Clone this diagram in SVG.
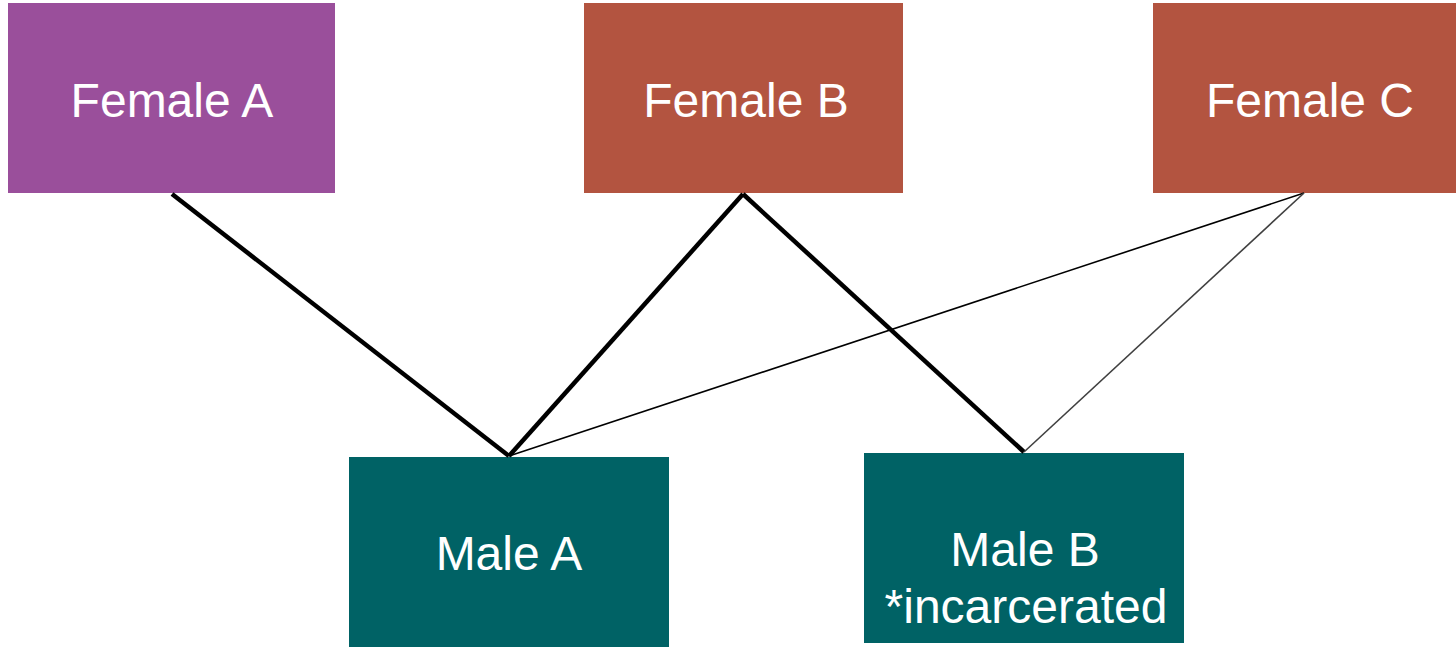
<svg xmlns="http://www.w3.org/2000/svg" width="1456" height="649" viewBox="0 0 1456 649">
<style>
.lbl{font-family:"Liberation Sans",Arial,sans-serif;font-size:48px;fill:#ffffff;text-anchor:middle}
.thick{stroke:#000;stroke-width:4.5;fill:none}
.thin{stroke:#000;stroke-width:1.6;fill:none}
.gray{stroke:#404040;stroke-width:1.6;fill:none}
</style>
<rect width="1456" height="649" fill="#ffffff"/>
<g id="femaleA"><rect x="8" y="3" width="327" height="190" fill="#9A4F9B"/><text class="lbl" x="172" y="117">Female A</text></g>
<g id="femaleB"><rect x="584" y="3" width="319" height="190" fill="#B35440"/><text class="lbl" x="746" y="117">Female B</text></g>
<g id="femaleC"><rect x="1153" y="3" width="303" height="190" fill="#B35440"/><text class="lbl" x="1310" y="117">Female C</text></g>
<g id="maleA"><rect x="349" y="457" width="320" height="190" fill="#006265"/><text class="lbl" x="509" y="570">Male A</text></g>
<g id="maleB"><rect x="864" y="453" width="320" height="190" fill="#006265"/><text class="lbl" x="1025" y="566">Male B</text><text class="lbl" x="1026" y="623">*incarcerated</text></g>
<g id="connectors">
<line class="thick" x1="172" y1="194" x2="509" y2="456"/>
<line class="thick" x1="743" y1="194" x2="509" y2="456"/>
<line class="thick" x1="743" y1="194" x2="1024" y2="452"/>
<line class="thin" x1="1304" y1="193" x2="509" y2="456"/>
<line class="gray" x1="1304" y1="193" x2="1024" y2="452"/>
</g>
</svg>
